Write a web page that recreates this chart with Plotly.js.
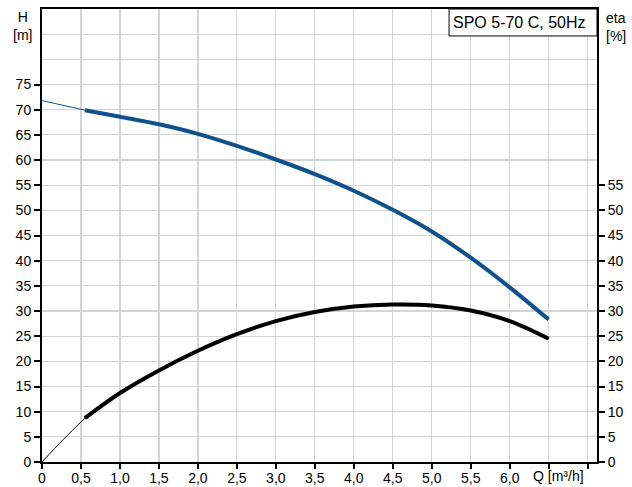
<!DOCTYPE html>
<html>
<head>
<meta charset="utf-8">
<script src="https://cdn.plot.ly/plotly-3.0.1.min.js"></script>
<style>html,body{margin:0;padding:0;background:#fff;}#chart{width:632px;height:487px;}</style>
</head>
<body>
<div id="chart"></div>
<script>
// Head curve (H [m]) – thin extension and operating range
const qHeadExt = [0, 0.55];
const headExt = [71.8, 69.9];
const qHead = [0.55, 1.0, 1.5, 2.0, 2.5, 3.0, 3.5, 4.0, 4.5, 5.0, 5.5, 6.0, 6.5];
const head = [69.9, 68.6, 67.1, 65.2, 62.8, 60.1, 57.2, 53.9, 50.1, 45.8, 40.6, 34.7, 28.3];

// Efficiency curve (eta [%])
const qEtaExt = [0, 0.275, 0.55];
const etaExt = [0, 4.5, 8.7];
const qEta = [0.55, 1.0, 1.5, 2.0, 2.5, 3.0, 3.5, 4.0, 4.5, 5.0, 5.5, 6.0, 6.5];
const eta = [8.7, 13.7, 18.2, 22.1, 25.4, 28.0, 29.8, 30.9, 31.3, 31.1, 30.1, 28.0, 24.5];

// Axis ticks
const xTickVals = [0, 0.5, 1, 1.5, 2, 2.5, 3, 3.5, 4, 4.5, 5, 5.5, 6, 6.5, 7];
const xTickText = ["0", "0,5", "1,0", "1,5", "2,0", "2,5", "3,0", "3,5", "4,0", "4,5", "5,0", "5,5", "6,0", "", ""];
const hTickVals = [0, 5, 10, 15, 20, 25, 30, 35, 40, 45, 50, 55, 60, 65, 70, 75];
const etaTickVals = [0, 5, 10, 15, 20, 25, 30, 35, 40, 45, 50, 55];
const gridDummyX = [0];
const gridDummyY = [0];

const title = "SPO 5-70 C, 50Hz";
const blue = "#0f518c";
const FONT = "Liberation Sans, Arial, sans-serif";

const traces = [
  {x: gridDummyX, y: gridDummyY, mode: "lines", yaxis: "y3", line: {width: 0}, hoverinfo: "skip"},
  {x: qHeadExt, y: headExt, mode: "lines", line: {color: blue, width: 1}, yaxis: "y", hoverinfo: "skip"},
  {x: qHead, y: head, mode: "lines", line: {color: blue, width: 4, shape: "spline"}, yaxis: "y"},
  {x: qEtaExt, y: etaExt, mode: "lines", line: {color: "#000", width: 1, shape: "spline"}, yaxis: "y2", hoverinfo: "skip"},
  {x: qEta, y: eta, mode: "lines", line: {color: "#000", width: 4, shape: "spline"}, yaxis: "y2"}
];

const axisCommon = {
  ticks: "outside", ticklen: 6, tickwidth: 2, tickcolor: "#000",
  showline: true, linewidth: 2, linecolor: "#000",
  zeroline: false, fixedrange: true,
  tickfont: {family: FONT, size: 14, color: "#000"}
};

const layout = {
  width: 632, height: 487,
  margin: {l: 42, r: 35, t: 9, b: 25, pad: 0},
  paper_bgcolor: "#fff", plot_bgcolor: "#fff",
  showlegend: false,
  font: {family: FONT, size: 14, color: "#000"},
  xaxis: Object.assign({}, axisCommon, {
    range: [0, 7.12], tickmode: "array", tickvals: xTickVals, ticktext: xTickText,
    showgrid: true, gridcolor: "#d3d6d9", gridwidth: 1.2, mirror: true, ticklen: 5,
    ticklabelstandoff: -3
  }),
  yaxis: Object.assign({}, axisCommon, {
    range: [0, 90], tickmode: "array", tickvals: hTickVals, showgrid: false, mirror: false
  }),
  yaxis2: Object.assign({}, axisCommon, {
    range: [0, 90], tickmode: "array", tickvals: etaTickVals, showgrid: false,
    overlaying: "y", side: "right"
  }),
  yaxis3: {
    range: [0, 90], tickmode: "linear", dtick: 5, tick0: 0, overlaying: "y", showgrid: true,
    gridcolor: "#d3d6d9", gridwidth: 1.2, showticklabels: false, ticks: "",
    showline: false, zeroline: false, fixedrange: true
  },
  shapes: [
    {type: "rect", xref: "paper", yref: "paper", x0: 0.7335, x1: 1, y0: 0.9405, y1: 1,
     line: {color: "#000", width: 1}, fillcolor: "#fff", layer: "above"}
  ],
  annotations: [
    {xref: "paper", yref: "paper", x: 0.7335, y: 0.9703, xanchor: "left", yanchor: "middle",
     text: title, showarrow: false, xshift: 2, font: {family: FONT, size: 16, color: "#000"}},
    {xref: "paper", yref: "paper", x: 0, y: 1, xanchor: "center", yanchor: "middle",
     xshift: -20, yshift: -17, text: "H<br>[m]", showarrow: false, align: "center",
     font: {family: FONT, size: 14, color: "#000"}},
    {xref: "paper", yref: "paper", x: 1, y: 1, xanchor: "left", yanchor: "middle",
     xshift: 7, yshift: -18, text: "eta<br>[%]", showarrow: false, align: "left",
     font: {family: FONT, size: 14, color: "#000"}},
    {xref: "x", yref: "paper", x: 6.5, y: 0, xanchor: "center", yanchor: "middle",
     xshift: 10, yshift: -14, text: "Q [m³/h]", showarrow: false,
     font: {family: FONT, size: 14, color: "#000"}}
  ]
};

Plotly.newPlot("chart", traces, layout, {displayModeBar: false, staticPlot: true});
</script>
</body>
</html>
